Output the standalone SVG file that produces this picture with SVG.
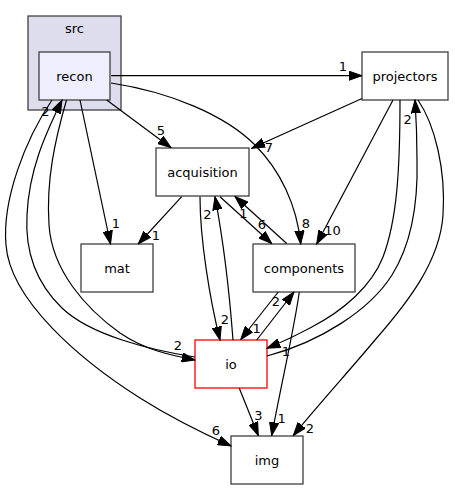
<svg xmlns="http://www.w3.org/2000/svg" width="455" height="489" viewBox="0 0 455 489">
<style>
text { font-family: "DejaVu Sans", "Liberation Sans", sans-serif; font-size: 13px; fill: #000; }
.lbl { text-anchor: middle; }
.node { fill: #ffffff; stroke: #404040; stroke-width: 1.3; }
.edge { fill: none; stroke: #000; stroke-width: 1.2; marker-end: url(#arr); }
</style>
<defs>
<marker id="arr" markerUnits="userSpaceOnUse" viewBox="0 0 14 10" markerWidth="14" markerHeight="10" refX="13.3" refY="5" orient="auto">
<path d="M0,0.33 L13.3,5 L0,9.67 Z" fill="#000" stroke="#000" stroke-width="1"/>
</marker>
</defs>
<g id="cluster_src">
<rect x="28" y="16" width="93" height="94" fill="#ddddee" stroke="#404040" stroke-width="1.3"/>
<text class="lbl" x="74.5" y="32.5">src</text>
</g>
<g id="node_recon">
<rect x="39" y="52" width="71" height="48" fill="#eeeeff" stroke="#404040" stroke-width="1.3"/>
<text class="lbl" x="74.5" y="80.5">recon</text>
</g>
<g id="node_projectors">
<rect class="node" x="362" y="52" width="86" height="48"/>
<text class="lbl" x="405" y="80.5">projectors</text>
</g>
<g id="node_acquisition">
<rect class="node" x="156" y="148" width="93" height="48"/>
<text class="lbl" x="202.5" y="176.5">acquisition</text>
</g>
<g id="node_mat">
<rect class="node" x="81" y="244" width="72" height="48"/>
<text class="lbl" x="117" y="272.5">mat</text>
</g>
<g id="node_components">
<rect class="node" x="253" y="244" width="102" height="48"/>
<text class="lbl" x="304" y="272.5">components</text>
</g>
<g id="node_io">
<rect x="195" y="340" width="72" height="48" fill="#ffffff" stroke="#ff0000" stroke-width="1.3"/>
<text class="lbl" x="231" y="368.5">io</text>
</g>
<g id="node_img">
<rect class="node" x="231" y="436" width="72" height="48"/>
<text class="lbl" x="267" y="464.5">img</text>
</g>
<g id="edges">
<path class="edge" d="M111,75.7 L362,75.7"/>
<text class="lbl" x="343" y="71.4">1</text>
<path class="edge" d="M106.7,100 L171,147.7"/>
<text class="lbl" x="161" y="134.7">5</text>
<path class="edge" d="M111,83 C170,92 225,115 255,145 C280,170 297,205 300.7,244"/>
<text class="lbl" x="306" y="228">8</text>
<path class="edge" d="M80,100 L110.5,244"/>
<text class="lbl" x="116" y="228">1</text>
<path class="edge" d="M52,100 C25,140 2,200 6,245 C10,300 80,360 140,398 C170,417 200,432 231,446"/>
<text class="lbl" x="216" y="435.4">6</text>
<path class="edge" d="M195,357 C150,350 90,335 62,308 C35,282 25,250 27,215 C29,170 45,135 62,100"/>
<text class="lbl" x="45.5" y="115.5">2</text>
<path class="edge" d="M66.5,100 C55,140 46,180 49,225 C52,270 85,308 120,333 C145,350 170,355 195,360"/>
<text class="lbl" x="178" y="349.7">2</text>
<path class="edge" d="M362,98.5 L251.7,148.3"/>
<text class="lbl" x="269" y="152">7</text>
<path class="edge" d="M393,100 L316.7,244"/>
<text class="lbl" x="332.5" y="235.4">10</text>
<path class="edge" d="M400,100 C400,170 397,220 383,257 C372,285 345,310 310,328 C295,336 280,343 267,348.3"/>
<text class="lbl" x="286" y="356">1</text>
<path class="edge" d="M267,356 C320,342 370,310 392,275 C412,243 418,200 417,160 C417,135 416,115 415,100"/>
<text class="lbl" x="407.7" y="124">2</text>
<path class="edge" d="M418,100 C435,125 446,170 443,215 C440,260 410,300 375,340 C350,370 318,405 293.3,435.5"/>
<text class="lbl" x="310" y="433">2</text>
<path class="edge" d="M181.7,196.7 L138.3,244"/>
<text class="lbl" x="156" y="240.4">1</text>
<path class="edge" d="M220,196.7 L271.7,243.5"/>
<text class="lbl" x="262" y="229">6</text>
<path class="edge" d="M286.7,243.5 L235,196.5"/>
<text class="lbl" x="243.3" y="218">1</text>
<path class="edge" d="M200,196.7 C200,240 210,300 220,340"/>
<text class="lbl" x="225" y="324">2</text>
<path class="edge" d="M233,340 C230,300 225,250 215,196.7"/>
<text class="lbl" x="207.3" y="219">2</text>
<path class="edge" d="M278.3,292 L240.7,339.5"/>
<text class="lbl" x="256.7" y="333">1</text>
<path class="edge" d="M256.7,340 L294,292"/>
<text class="lbl" x="276" y="306.4">2</text>
<path class="edge" d="M299.3,292 C294,330 282,380 271.7,435.5"/>
<text class="lbl" x="281.7" y="423">1</text>
<path class="edge" d="M239.3,388.3 L258.3,435.5"/>
<text class="lbl" x="258.3" y="419.7">3</text>
</g>
</svg>
